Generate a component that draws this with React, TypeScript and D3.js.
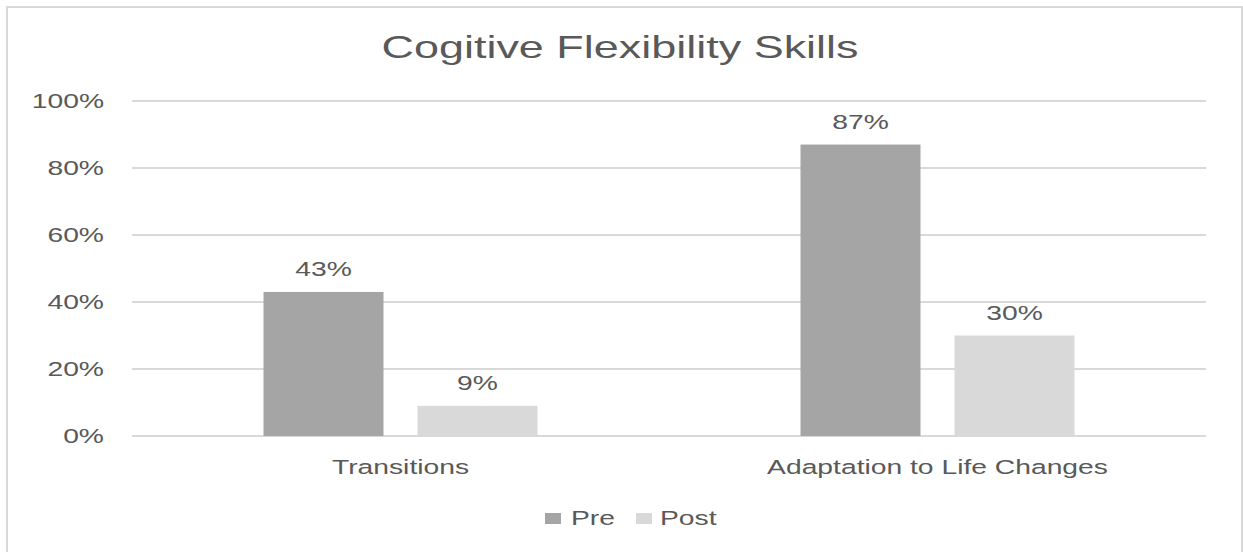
import React from "react";
import * as d3 from "d3";

const title = "Cogitive Flexibility Skills";
const categories = ["Transitions", "Adaptation to Life Changes"];
const seriesNames = ["Pre", "Post"];
const preValues = [0.43, 0.87];
const postValues = [0.09, 0.3];
const yTicks = [0, 0.2, 0.4, 0.6, 0.8, 1.0];

const W = 1243;
const H = 552;
const SX = 1.45;
const FONT = "'Liberation Sans', Arial, sans-serif";
const TEXT = "#595959";
const GRID = "#d9d9d9";
const colors = ["#a5a5a5", "#d9d9d9"];

function SText({ x, y, anchor, size, children }: any) {
  return (
    <text
      transform={`translate(${x},${y}) scale(${SX},1)`}
      textAnchor={anchor}
      fontSize={size}
      fill={TEXT}
      fontFamily={FONT}
    >
      {children}
    </text>
  );
}

export default function App() {
  const plot = { left: 132, right: 1206, top: 101, bottom: 436 };
  const y = d3.scaleLinear().domain([0, 1]).range([plot.bottom, plot.top]);
  const x0 = d3
    .scaleBand<string>()
    .domain(categories)
    .range([plot.left, plot.right])
    .paddingInner(0)
    .paddingOuter(0);
  const barW = 120;
  const gap = 34;
  const x1 = d3
    .scaleOrdinal<string, number>()
    .domain(seriesNames)
    .range([-gap / 2 - barW, gap / 2]);
  const series = [preValues, postValues];
  const fmt = d3.format(".0%");

  return (
    <svg
      width={W}
      height={H}
      style={{ position: "absolute", left: 0, top: 0, background: "#fff" }}
    >
      <rect x={7} y={7} width={1235} height={560} fill="#fff" stroke={GRID} strokeWidth={2} />
      <SText x={620} y={58} anchor="middle" size={31}>
        {title}
      </SText>
      {yTicks.map((t) => (
        <g key={t}>
          <line x1={plot.left} x2={plot.right} y1={y(t)} y2={y(t)} stroke={GRID} strokeWidth={2} />
          <SText x={104} y={y(t) + 7} anchor="end" size={19.5}>
            {fmt(t)}
          </SText>
        </g>
      ))}
      {categories.map((c, ci) => {
        const cx = (x0(c) as number) + x0.bandwidth() / 2;
        return (
          <g key={c}>
            {seriesNames.map((s, si) => {
              const v = series[si][ci];
              const bx = cx + x1(s);
              return (
                <g key={s}>
                  <rect x={bx} y={y(v)} width={barW} height={y(0) - y(v)} fill={colors[si]} />
                  <SText x={bx + barW / 2} y={y(v) - 16} anchor="middle" size={19.5}>
                    {fmt(v)}
                  </SText>
                </g>
              );
            })}
            <SText x={cx} y={474} anchor="middle" size={19.5}>
              {c}
            </SText>
          </g>
        );
      })}
      <g>
        <rect x={545} y={513} width={16} height={11} fill={colors[0]} />
        <SText x={571} y={525} anchor="start" size={19.5}>
          {seriesNames[0]}
        </SText>
        <rect x={636} y={513} width={16} height={11} fill={colors[1]} />
        <SText x={660} y={525} anchor="start" size={19.5}>
          {seriesNames[1]}
        </SText>
      </g>
    </svg>
  );
}
